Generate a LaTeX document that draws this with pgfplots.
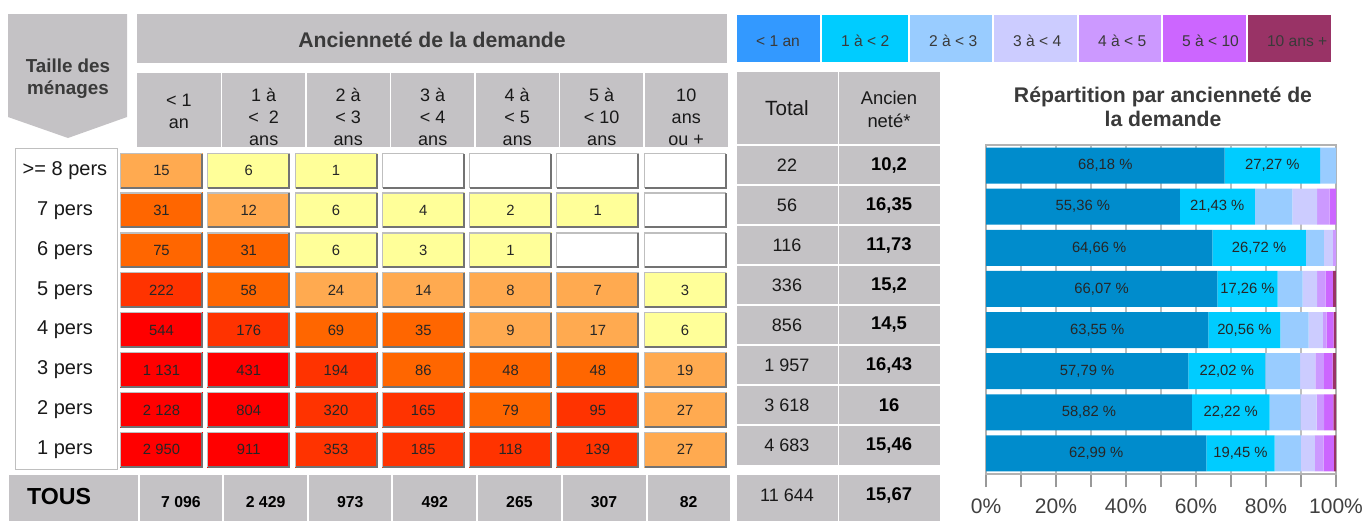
\documentclass[border=0pt]{standalone}
\usepackage{fontspec}
\setmainfont{Liberation Sans}
\usepackage{pgfplots}
\usepackage{pgfplotstable}
\pgfplotsset{compat=1.18}

\definecolor{hdr}{HTML}{C4C2C5}
\definecolor{dk}{HTML}{3A3A3A}
% heat classes
\definecolor{cYel}{HTML}{FFFF99}
\definecolor{cLor}{HTML}{FFAA50}
\definecolor{cOr}{HTML}{FF6600}
\definecolor{cRor}{HTML}{FF3300}
\definecolor{cRed}{HTML}{FF0000}
% seniority colours
\definecolor{l1}{HTML}{3399FF}
\definecolor{b1}{HTML}{008CCC}
\definecolor{b2}{HTML}{00CCFF}
\definecolor{b3}{HTML}{99CCFF}
\definecolor{b4}{HTML}{CCCCFF}
\definecolor{b5}{HTML}{CC99FF}
\definecolor{b6}{HTML}{CC66FF}
\definecolor{b7}{HTML}{993366}

\newcommand\fs[2]{\fontsize{#1}{#2}\selectfont}

% bevelled table cell, 83x36 px
\pgfdeclareplotmark{cell}{%
  \pgfpathrectangle{\pgfpoint{-20.75pt}{-9pt}}{\pgfpoint{41.5pt}{18pt}}%
  \pgfusepathqfill
  \pgfsetlinewidth{0.6pt}%
  \pgfsetstrokecolor{black!25}%
  \pgfpathmoveto{\pgfpoint{-20.45pt}{-8.7pt}}%
  \pgfpathlineto{\pgfpoint{-20.45pt}{8.7pt}}%
  \pgfpathlineto{\pgfpoint{20.45pt}{8.7pt}}%
  \pgfusepathqstroke
  \pgfsetlinewidth{1pt}%
  \pgfsetstrokecolor{black!55}%
  \pgfpathmoveto{\pgfpoint{-20.25pt}{-8.5pt}}%
  \pgfpathlineto{\pgfpoint{20.25pt}{-8.5pt}}%
  \pgfpathlineto{\pgfpoint{20.25pt}{8.5pt}}%
  \pgfusepathqstroke
}

% i = row (>=8 pers ... 1 pers), j = seniority class, k = colour class (0 = empty)
\pgfplotstableread{
i j v k
0 0 15 2
0 1 6 1
0 2 1 1
0 3 0 0
0 4 0 0
0 5 0 0
0 6 0 0
1 0 31 3
1 1 12 2
1 2 6 1
1 3 4 1
1 4 2 1
1 5 1 1
1 6 0 0
2 0 75 3
2 1 31 3
2 2 6 1
2 3 3 1
2 4 1 1
2 5 0 0
2 6 0 0
3 0 222 4
3 1 58 3
3 2 24 2
3 3 14 2
3 4 8 2
3 5 7 2
3 6 3 1
4 0 544 5
4 1 176 4
4 2 69 3
4 3 35 3
4 4 9 2
4 5 17 2
4 6 6 1
5 0 1131 5
5 1 431 5
5 2 194 4
5 3 86 3
5 4 48 3
5 5 48 3
5 6 19 2
6 0 2128 5
6 1 804 5
6 2 320 4
6 3 165 4
6 4 79 3
6 5 95 4
6 6 27 2
7 0 2950 5
7 1 911 5
7 2 353 4
7 3 185 4
7 4 118 4
7 5 139 4
7 6 27 2
}\cells

\pgfplotstableread{
i tot anc
0 22 10.2
1 56 16.35
2 116 11.73
3 336 15.2
4 856 14.5
5 1957 16.43
6 3618 16
7 4683 15.46
}\totals

\pgfplotstableread{
j v
0 7096
1 2429
2 973
3 492
4 265
5 307
6 82
}\tous

\pgfplotstableread{
r p1 p2 p3 p4 p5 p6 p7
1 68.18 27.27 4.55 0 0 0 0
2 55.36 21.43 10.71 7.14 3.57 1.79 0
3 64.66 26.72 5.17 2.59 0.86 0 0
4 66.07 17.26 7.14 4.17 2.38 2.08 0.89
5 63.55 20.56 8.06 4.09 1.05 1.99 0.70
6 57.79 22.02 9.91 4.39 2.45 2.45 0.97
7 58.82 22.22 8.84 4.56 2.18 2.63 0.75
8 62.99 19.45 7.54 3.95 2.52 2.97 0.58
}\pct

\pgfplotsset{
  heat/.style={only marks, mark=cell, mark options={fill=#1},
    point meta=explicit,
    nodes near coords, nodes near coords align=center,
    every node near coord/.append style={font=\fs{7.4}{9}, text=black!85}},
}

\begin{document}
\begin{tikzpicture}
\begin{axis}[
  x=0.5pt, y=0.5pt,
  xmin=0, xmax=1362, ymin=0, ymax=521, y dir=reverse,
  hide axis, clip=false,
  /pgf/number format/assume math mode=true,
  /pgf/number format/use comma,
  /pgf/number format/1000 sep={\ },
]
\coordinate (ptl) at (0,0);
\coordinate (pbr) at (1362,521);
\coordinate (barNW) at (986,145);

% header shapes
\fill[hdr] (8,14) -- (127,14) -- (127,117) -- (68,138) -- (8,117) -- cycle;
\node[font=\bfseries\fs{9.4}{11}, text=dk, align=center] at (68,79) {Taille des\\ménages};
\fill[hdr] (137,14) rectangle (727,63);
\node[font=\bfseries\fs{10.6}{13}, text=dk] at (432,40) {Ancienneté de la demande};

\fill[hdr] (137,73) rectangle (728,147);
\draw[white, line width=0.6pt] (221.5,73) -- (221.5,147) (306,73) -- (306,147)
  (390.5,73) -- (390.5,147) (475,73) -- (475,147) (559.5,73) -- (559.5,147) (644,73) -- (644,147);
\begin{scope}[every node/.style={font=\fs{9}{11}, text=black!90, align=center}]
\node at (179,111) {<~1\\an};
\node at (263.75,117) {1 à\\<~~2\\ans};
\node at (348.25,117) {2 à\\<~3\\ans};
\node at (432.75,117) {3 à\\<~4\\ans};
\node at (517.25,117) {4 à\\<~5\\ans};
\node at (601.75,117) {5 à\\<~10\\ans};
\node at (686.25,117) {10\\ans\\ou +};
\end{scope}

% row labels
\filldraw[fill=white, draw=black!25, line width=0.5pt] (15,148) rectangle (117,469);
\begin{scope}[every node/.style={font=\fs{10}{12}, text=black!90}]
\node at (65,170.5) {>= 8 pers};
\node at (65,210.4) {7 pers};
\node at (65,250.3) {6 pers};
\node at (65,290.2) {5 pers};
\node at (65,330.1) {4 pers};
\node at (65,370.0) {3 pers};
\node at (65,409.9) {2 pers};
\node at (65,449.8) {1 pers};
\end{scope}

% right table
\fill[hdr] (737,72) rectangle (940,465);
\draw[white, line width=0.6pt] (838.5,72) -- (838.5,465)
  (737,145) -- (940,145) (737,185) -- (940,185) (737,225) -- (940,225)
  (737,265) -- (940,265) (737,305) -- (940,305) (737,345) -- (940,345)
  (737,385) -- (940,385) (737,425) -- (940,425);
\node[font=\fs{10.3}{12}, text=black!90] at (787,108) {Total};
\node[font=\fs{9.2}{11.5}, text=black!90, align=center] at (889,109.5) {Ancien\\neté*};

% TOUS rows
\fill[hdr] (9,475) rectangle (730,521);
\draw[white, line width=0.6pt] (139,475) -- (139,521) (223,475) -- (223,521) (308,475) -- (308,521)
  (392,475) -- (392,521) (477,475) -- (477,521) (562,475) -- (562,521) (647,475) -- (647,521);
\fill[hdr] (737,475) rectangle (940,521);
\draw[white, line width=0.6pt] (838.5,475) -- (838.5,521);
\node[font=\bfseries\fs{11.6}{13}, anchor=west] at (20,497) {TOUS};

% legend boxes
\fill[l1] (737,15) rectangle (821,62);
\fill[b2] (821,15) rectangle (909,62);
\fill[b3] (909,15) rectangle (993,62);
\fill[b4] (993,15) rectangle (1078,62);
\fill[b5] (1078,15) rectangle (1162,62);
\fill[b6] (1162,15) rectangle (1247,62);
\fill[b7] (1247,15) rectangle (1331,62);
\draw[white, line width=0.6pt] (821,15) -- (821,62) (909,15) -- (909,62) (993,15) -- (993,62)
  (1078,15) -- (1078,62) (1162,15) -- (1162,62) (1247,15) -- (1247,62);
\begin{scope}[every node/.style={font=\fs{7.8}{10}, text=dk, anchor=west}]
\node at (749,41) {< 1 an};
\node at (834,41) {1 à < 2};
\node at (922,41) {2 à < 3};
\node at (1006,41) {3 à < 4};
\node at (1091,41) {4 à < 5};
\node at (1175,41) {5 à < 10};
\node at (1260,41) {10 ans +};
\end{scope}

\node[font=\bfseries\fs{10.6}{12}, text=dk, align=center] at (1163,107)
  {Répartition par ancienneté de\\la demande};

% heat cells, one plot per colour class
\addplot[only marks, mark=cell, mark options={fill=white},
  restrict expr to domain={\thisrow{k}}{0:0}]
  table[x expr={161.5+87.25*\thisrow{j}}, y expr={170.5+39.9*\thisrow{i}}] \cells;
\addplot[heat=cYel, restrict expr to domain={\thisrow{k}}{1:1}]
  table[x expr={161.5+87.25*\thisrow{j}}, y expr={170.5+39.9*\thisrow{i}}, meta=v] \cells;
\addplot[heat=cLor, restrict expr to domain={\thisrow{k}}{2:2}]
  table[x expr={161.5+87.25*\thisrow{j}}, y expr={170.5+39.9*\thisrow{i}}, meta=v] \cells;
\addplot[heat=cOr, restrict expr to domain={\thisrow{k}}{3:3}]
  table[x expr={161.5+87.25*\thisrow{j}}, y expr={170.5+39.9*\thisrow{i}}, meta=v] \cells;
\addplot[heat=cRor, restrict expr to domain={\thisrow{k}}{4:4}]
  table[x expr={161.5+87.25*\thisrow{j}}, y expr={170.5+39.9*\thisrow{i}}, meta=v] \cells;
\addplot[heat=cRed, restrict expr to domain={\thisrow{k}}{5:5}]
  table[x expr={161.5+87.25*\thisrow{j}}, y expr={170.5+39.9*\thisrow{i}}, meta=v] \cells;

% totals and mean seniority
\addplot[only marks, mark=none, point meta=explicit,
  nodes near coords, nodes near coords align=center,
  every node near coord/.append style={font=\fs{9}{11}, text=black!90},
] table[x expr=787, y expr={165+40*\thisrow{i}}, meta=tot] \totals;
\addplot[only marks, mark=none, point meta=explicit,
  nodes near coords, nodes near coords align=center,
  every node near coord/.append style={font=\bfseries\fs{9.2}{11}, text=black},
] table[x expr=889, y expr={165+40*\thisrow{i}}, meta=anc] \totals;

% TOUS values
\addplot[only marks, mark=none, point meta=explicit,
  nodes near coords, nodes near coords align=center,
  every node near coord/.append style={font=\bfseries\fs{7.9}{10}, text=black},
] table[x expr={181+84.6*\thisrow{j}}, y expr=502, meta=v] \tous;
\addplot[only marks, mark=none, point meta=explicit,
  nodes near coords, nodes near coords align=center,
  every node near coord/.append style={font=\fs{9}{11}, text=black!90},
] coordinates {(787,495) [11644]};
\addplot[only marks, mark=none, point meta=explicit,
  nodes near coords, nodes near coords align=center,
  every node near coord/.append style={font=\bfseries\fs{9.2}{11}, text=black},
] coordinates {(889,495) [15.67]};
\end{axis}

\begin{axis}[
  at={(barNW)}, anchor=north west,
  x=1.75pt, y=20.5625pt,
  xmin=0, xmax=100, ymin=0.5, ymax=8.5, y dir=reverse,
  xbar stacked, bar width=18pt,
  ytick=\empty,
  xtick={0,20,...,100}, minor xtick={10,30,...,90},
  xtick pos=left, tick align=outside,
  major tick length=6.5pt, minor tick length=6.5pt,
  tick style={black!40, line width=0.8pt},
  xmajorgrids, xminorgrids,
  major grid style={black!25, line width=0.6pt},
  minor grid style={black!25, line width=0.6pt},
  axis line style={black!30, line width=0.8pt},
  xticklabel={\pgfmathprintnumber{\tick}\%},
  xticklabel style={font=\fs{10.5}{12}, text=black!75, yshift=-2.5pt},
  /pgf/number format/assume math mode=true,
  /pgf/number format/use comma,
  every node near coord/.append style={font=\fs{7.4}{9}, text=black!85},
]
\addplot[fill=b1, draw=none,
  visualization depends on={\thisrow{p1}\as\w},
  nodes near coords={\pgfmathprintnumber[fixed, fixed zerofill, precision=2]{\w}\ \%},
  nodes near coords align=center,
] table[x=p1, y=r] \pct;
\addplot[fill=b2, draw=none,
  visualization depends on={\thisrow{p2}\as\w},
  nodes near coords={\pgfmathprintnumber[fixed, fixed zerofill, precision=2]{\w}\ \%},
  nodes near coords align=center,
] table[x=p2, y=r] \pct;
\addplot[fill=b3, draw=none] table[x=p3, y=r] \pct;
\addplot[fill=b4, draw=none] table[x=p4, y=r] \pct;
\addplot[fill=b5, draw=none] table[x=p5, y=r] \pct;
\addplot[fill=b6, draw=none] table[x=p6, y=r] \pct;
\addplot[fill=b7, draw=none] table[x=p7, y=r] \pct;
\end{axis}
\pgfresetboundingbox
\path (ptl) rectangle (pbr);
\end{tikzpicture}
\end{document}
